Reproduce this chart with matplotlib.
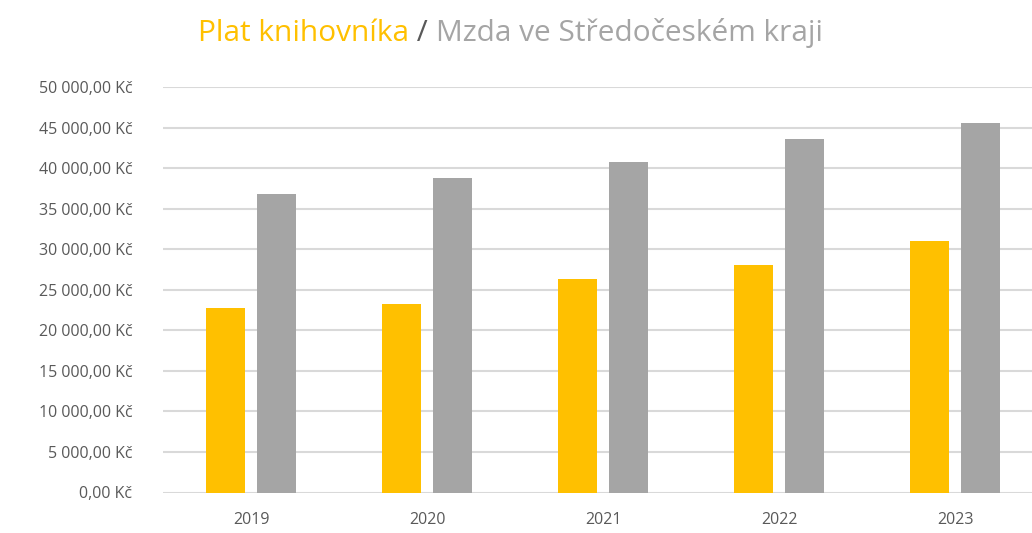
import matplotlib
matplotlib.use('Agg')
from matplotlib import pyplot as plt
import numpy as np

# data
years = ['2019', '2020', '2021', '2022', '2023']
plat_knihovnika = [22800, 23270, 26350, 28100, 31000]
mzda_stredocesky = [36850, 38800, 40700, 43600, 45500]
y_ticks = list(range(0, 50001, 5000))

plt.rcParams['font.family'] = ['Open Sans', 'DejaVu Sans']

YELLOW = '#FFC000'
GRAY = '#A5A5A5'
TEXT = '#595959'


def kc(v):
    # 45 000,00 Kč
    s = '{:,.2f}'.format(v).replace(',', ' ').replace('.', ',')
    return s + ' Kč'


fig = plt.figure(figsize=(10.32, 5.33), dpi=100)
ax = fig.add_axes([163 / 1032, 40.5 / 533, 880 / 1032, 405.5 / 533])

x = np.arange(len(years))
w = 0.22
ax.bar(x - 0.145, plat_knihovnika, w, color=YELLOW, zorder=3)
ax.bar(x + 0.145, mzda_stredocesky, w, color=GRAY, zorder=3)

ax.set_xlim(-0.5, 4.5)
ax.set_ylim(0, 50000)
ax.set_yticks(y_ticks)
ax.set_yticklabels([kc(v) for v in y_ticks])
ax.set_xticks(x)
ax.set_xticklabels(years)
ax.grid(axis='y', color='#D9D9D9', linewidth=1.5, zorder=0)
for s in ax.spines.values():
    s.set_visible(False)
ax.tick_params(length=0, labelsize=11.5, colors=TEXT)
ax.tick_params(axis='y', pad=22)
ax.tick_params(axis='x', pad=14)

# title in three colours
t1 = fig.text(198 / 1032, 0.937, 'Plat knihovníka', color=YELLOW,
              fontsize=21.5, va='center', ha='left')
t2 = ax.annotate(' / ', xycoords=t1, xy=(1, 0), va='bottom', ha='left',
                 color=TEXT, fontsize=21.5)
ax.annotate('Mzda ve Středočeském kraji', xycoords=t2, xy=(1, 0),
            va='bottom', ha='left', color=GRAY, fontsize=21.5)

fig.savefig('out.png', dpi=100)
